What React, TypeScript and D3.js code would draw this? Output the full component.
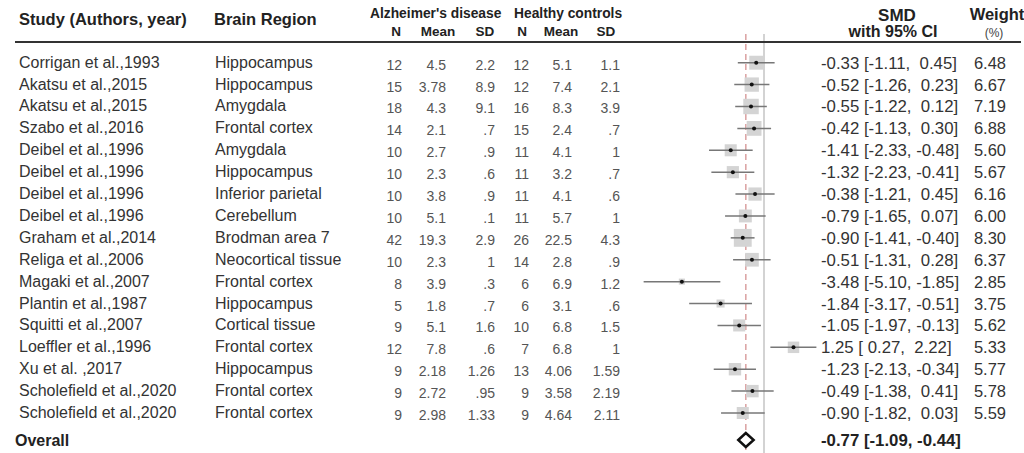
import * as d3 from 'd3'

const studies = [
  'Corrigan et al.,1993', 'Akatsu et al.,2015', 'Akatsu et al.,2015', 'Szabo et al.,2016',
  'Deibel et al.,1996', 'Deibel et al.,1996', 'Deibel et al.,1996', 'Deibel et al.,1996',
  'Graham et al.,2014', 'Religa et al.,2006', 'Magaki et al.,2007', 'Plantin et al.,1987',
  'Squitti et al.,2007', 'Loeffler et al.,1996', 'Xu et al. ,2017', 'Scholefield et al.,2020',
  'Scholefield et al.,2020',
]
const regions = [
  'Hippocampus', 'Hippocampus', 'Amygdala', 'Frontal cortex', 'Amygdala', 'Hippocampus',
  'Inferior parietal', 'Cerebellum', 'Brodman area 7', 'Neocortical tissue', 'Frontal cortex',
  'Hippocampus', 'Cortical tissue', 'Frontal cortex', 'Hippocampus', 'Frontal cortex', 'Frontal cortex',
]
const adN = ['12', '15', '18', '14', '10', '10', '10', '10', '42', '10', '8', '5', '9', '12', '9', '9', '9']
const adMean = ['4.5', '3.78', '4.3', '2.1', '2.7', '2.3', '3.8', '5.1', '19.3', '2.3', '3.9', '1.8', '5.1', '7.8', '2.18', '2.72', '2.98']
const adSD = ['2.2', '8.9', '9.1', '.7', '.9', '.6', '.9', '.1', '2.9', '1', '.3', '.7', '1.6', '.6', '1.26', '.95', '1.33']
const hcN = ['12', '12', '16', '15', '11', '11', '11', '11', '26', '14', '6', '6', '10', '7', '13', '9', '9']
const hcMean = ['5.1', '7.4', '8.3', '2.4', '4.1', '3.2', '4.1', '5.7', '22.5', '2.8', '6.9', '3.1', '6.8', '6.8', '4.06', '3.58', '4.64']
const hcSD = ['1.1', '2.1', '3.9', '.7', '1', '.7', '.6', '1', '4.3', '.9', '1.2', '.6', '1.5', '1', '1.59', '2.19', '2.11']
const smd = [-0.33, -0.52, -0.55, -0.42, -1.41, -1.32, -0.38, -0.79, -0.90, -0.51, -3.48, -1.84, -1.05, 1.25, -1.23, -0.49, -0.90]
const ciLow = [-1.11, -1.26, -1.22, -1.13, -2.33, -2.23, -1.21, -1.65, -1.41, -1.31, -5.10, -3.17, -1.97, 0.27, -2.13, -1.38, -1.82]
const ciHigh = [0.45, 0.23, 0.12, 0.30, -0.48, -0.41, 0.45, 0.07, -0.40, 0.28, -1.85, -0.51, -0.13, 2.22, -0.34, 0.41, 0.03]
const weights = ['6.48', '6.67', '7.19', '6.88', '5.60', '5.67', '6.16', '6.00', '8.30', '6.37', '2.85', '3.75', '5.62', '5.33', '5.77', '5.78', '5.59']
const overall = { est: -0.77, lo: -1.09, hi: -0.44 }

const numHeaders = ['N', 'Mean', 'SD', 'N', 'Mean', 'SD']
const FONT = '"Liberation Sans", Arial, sans-serif'

const fmt = (v: number) => v.toFixed(2)
const ciText = (e: number, l: number, h: number) =>
  `${fmt(e)} [${l >= 0 ? ' ' : ''}${fmt(l)}, ${h >= 0 ? ' ' : ''}${fmt(h)}]`

export default function App() {
  const width = 1024
  const height = 453

  const x = d3.scaleLinear().domain([-5.5, 2.5]).range([634.2, 823])
  const y = d3.scaleLinear().domain([0, studies.length - 1]).range([62.7, 413])
  const overallY = 440
  // square side grows with the study weight
  const side = d3.scaleLinear().domain([0, 10]).range([0, 21.5])

  // right edges of the numeric columns
  const numCols = [402, 446, 495, 529, 572, 620]
  const numHeadX = [396, 438, 485, 522, 561, 606]
  const cols = [adN, adMean, adSD, hcN, hcMean, hcSD]

  return (
    <svg width={width} height={height} style={{ position: 'absolute', left: 0, top: 0, background: '#fff' }}
      fontFamily={FONT}>
      {/* header */}
      <g fill="#222" fontWeight="bold">
        <text x={19} y={25} fontSize={16.5}>Study (Authors, year)</text>
        <text x={214} y={25} fontSize={16.5}>Brain Region</text>
        <text x={370} y={18} fontSize={13.8}>Alzheimer's disease</text>
        <text x={514} y={18} fontSize={13.8}>Healthy controls</text>
        {numHeaders.map((h, i) => (
          <text key={i} x={numHeadX[i]} y={36} fontSize={13.5} textAnchor="middle">{h}</text>
        ))}
        <text x={897} y={21} fontSize={17} textAnchor="middle">SMD</text>
        <text x={893} y={37} fontSize={16} textAnchor="middle">with 95% CI</text>
        <text x={997} y={20} fontSize={16.5} textAnchor="middle">Weight</text>
      </g>
      <text x={994} y={37} fontSize={12} textAnchor="middle" fill="#444">(%)</text>

      {/* reference lines */}
      <line x1={x(0)} x2={x(0)} y1={34} y2={height} stroke="#c8c8c8" strokeWidth={1.6} />
      <line x1={x(overall.est)} x2={x(overall.est)} y1={34} y2={height} stroke="#d89a9a"
        strokeWidth={1.4} strokeDasharray="6,4" />
      <line x1={15} x2={1021} y1={42} y2={42} stroke="#333" strokeWidth={2} />

      {/* rows */}
      {studies.map((s, i) => {
        const cy = y(i)
        const w = side(+weights[i])
        return (
          <g key={i}>
            <text x={19} y={cy + 5} fontSize={16} fill="#333">{s}</text>
            <text x={215} y={cy + 5} fontSize={16} fill="#333">{regions[i]}</text>
            {cols.map((c, j) => (
              <text key={j} x={numCols[j]} y={cy + 7} fontSize={14} fill="#555" textAnchor="end">{c[i]}</text>
            ))}
            <rect x={x(smd[i]) - w / 2} y={cy - w / 2} width={w} height={w} fill="#d4d4d4" />
            <line x1={x(ciLow[i])} x2={x(ciHigh[i])} y1={cy} y2={cy} stroke="#777" strokeWidth={1.5} />
            <circle cx={x(smd[i])} cy={cy} r={2} fill="#111" />
            <text x={821} y={cy + 6} fontSize={16.8} fill="#333" style={{ whiteSpace: 'pre' }}>
              {ciText(smd[i], ciLow[i], ciHigh[i])}
            </text>
            <text x={1006} y={cy + 6} fontSize={16.5} fill="#333" textAnchor="end">{weights[i]}</text>
          </g>
        )
      })}

      {/* overall */}
      <text x={15} y={overallY + 6} fontSize={16} fontWeight="bold" fill="#222">Overall</text>
      <path
        d={`M${x(overall.lo)},${overallY} L${x(overall.est)},${overallY - 7} L${x(overall.hi)},${overallY} L${x(overall.est)},${overallY + 7} Z`}
        fill="#fff" stroke="#111" strokeWidth={2.5} strokeLinejoin="miter" />
      <text x={821} y={overallY + 6} fontSize={16.8} fontWeight="bold" fill="#222" style={{ whiteSpace: 'pre' }}>
        {ciText(overall.est, overall.lo, overall.hi)}
      </text>
    </svg>
  )
}
